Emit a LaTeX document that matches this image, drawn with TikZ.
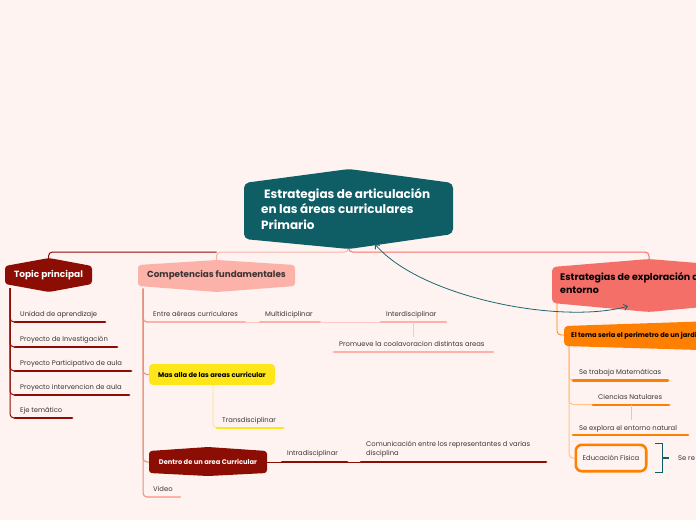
\documentclass[tikz,border=0pt]{standalone}
\usepackage{fontspec}
\setmainfont{Poppins}
\usetikzlibrary{arrows.meta,calc}
\pgfdeclarelayer{back}\pgfdeclarelayer{mid}
\pgfsetlayers{back,mid,main}
\definecolor{bgc}{HTML}{FEF3F1}
\definecolor{rootc}{HTML}{0F5E66}
\definecolor{dred}{HTML}{8B0D03}
\definecolor{lpink}{HTML}{FCB1A9}
\definecolor{salm}{HTML}{F56F69}
\definecolor{orng}{HTML}{FF7F00}
\definecolor{yel}{HTML}{FFE619}
\definecolor{lyel}{HTML}{FFEA90}
\definecolor{lorng}{HTML}{FFC487}
\definecolor{vline}{HTML}{E5907C}
\definecolor{txtc}{HTML}{3A3535}
\definecolor{arrc}{HTML}{1C6871}
\tikzset{
 itm/.style={anchor=base west, inner sep=0, font=\fontsize{6.8}{8}\selectfont, text=txtc},
 uline/.style={line width=2.8, line cap=round},
 conn/.style={line width=1, rounded corners=4},
 smallbold/.style={font=\bfseries\fontsize{6.7}{8}\selectfont, inner sep=0},
}
\begin{document}
\begin{tikzpicture}[x=1pt,y=-1pt]
\useasboundingbox (0,0) rectangle (696,520);
\clip (0,0) rectangle (696,520);
\begin{pgfonlayer}{back}\fill[bgc] (0,0) rectangle (696,520);\end{pgfonlayer}

% ---------- root ----------
\begin{pgfonlayer}{mid}
\fill[rootc, rounded corners=5] (244,183) -- (349,169) -- (453,183) -- (453,234) -- (349,249) -- (244,239) -- cycle;
\end{pgfonlayer}
\node[minimum width=209, minimum height=66, inner sep=0] (root) at (348.5,209) {};
\node[anchor=west, align=left, inner sep=0, text=white, font=\bfseries\fontsize{12}{15.5}\selectfont] (roottxt) at (261,209) {\hspace{3pt}Estrategias de articulación\\en las áreas curriculares\\Primario};

% ---------- main branches ----------
\begin{pgfonlayer}{mid}
\fill[dred, rounded corners=3] (5,266) -- (49,258) -- (92,266) -- (92,284) -- (49,292) -- (5,284) -- cycle;
\fill[lpink, rounded corners=3] (138,265) -- (217,260) -- (295,265) -- (295,286) -- (217,292) -- (138,286) -- cycle;
\fill[salm, rounded corners=4] (552,267) -- (649,259) -- (746,267) -- (746,303) -- (649,312) -- (552,303) -- cycle;
\fill[orng, rounded corners=4] (564,326) -- (700,321.5) -- (836,326) -- (836,346) -- (700,350) -- (564,346) -- cycle;
\fill[yel, rounded corners=4] (149,364) rectangle (275,385);
\fill[dred, rounded corners=3] (149,451) -- (208,447) -- (267,451) -- (267,473) -- (208,476) -- (149,473) -- cycle;
\end{pgfonlayer}
\node[minimum width=87, minimum height=26, inner sep=0, text=white, font=\bfseries\fontsize{9}{11}\selectfont] (tp) at (48.5,275) {Topic principal};
\node[minimum width=157, minimum height=26, inner sep=0, text=txtc, font=\bfseries\fontsize{8.8}{11}\selectfont] (cf) at (216.5,275.5) {Competencias fundamentales};
\node[minimum width=194, minimum height=36, inner sep=0] (ex) at (649,285) {};
\node[anchor=west, align=left, inner sep=0, text=black, font=\bfseries\fontsize{9.5}{12.5}\selectfont] (extxt) at (560,283) {Estrategias de exploración del\\entorno};
\node[minimum width=126, minimum height=21, text=black, smallbold] (ma) at (212,374.5) {Mas alla de las areas curricular};
\node[minimum width=118, minimum height=22, text=white, smallbold] (de) at (208,462) {Dentro de un area Curricular};
\node[anchor=west, text=black, smallbold] (ot) at (571,335.5) {El tema seria el perimetro de un jardín};
\coordinate (otl) at (564,335);

% bus connectors
\begin{pgfonlayer}{back}
\draw[conn, dred] (cf.north |- 0,252) -- (tp.north |- 0,252) -- (tp.north);
\draw[conn, lpink] (root.south) |- (cf.north |- 0,252) -- (cf.north);
\draw[conn, salm] (root.south) |- (ex.north |- 0,252) -- (ex.north);
\end{pgfonlayer}

% ---------- Topic principal children ----------
\coordinate (tpv) at (tp.south -| 10,0);
\node[itm] (t1) at (20,316.5) {Unidad de aprendizaje};
\node[itm] (t2) at (20,341.5) {Proyecto de Investigación};
\node[itm] (t3) at (20,365.5) {Proyecto Participativo de aula};
\node[itm] (t4) at (20,389.5) {Proyecto intervencion de aula};
\node[itm] (t5) at (20,412.5) {Eje temático};
\begin{pgfonlayer}{back}
\foreach \yy/\xe in {322/105, 347/117, 371/131, 395/129, 418/72}{
  \draw[conn, dred] (tpv) |- (15,\yy);
  \draw[uline, dred] (15,\yy) -- (\xe,\yy);
}
\end{pgfonlayer}

% ---------- Competencias children ----------
\coordinate (cfv) at (cf.south -| 143,0);
\node[itm] (c1) at (153,316.5) {Entre aéreas curriculares};
\node[itm] (c2) at (265,316.5) {Multidiciplinar};
\node[itm] (c3) at (386,316.5) {Interdisciplinar};
\node[itm] (c4) at (339,346.5) {Promueve la coolavoracion distintas areas};
\node[itm] (c5) at (222,422.5) {Transdisciplinar};
\node[itm] (c6) at (287,455.5) {Intradisciplinar};
\node[itm] (c7) at (366,446.5) {Comunicación entre los representantes d varias};
\node[itm] (c7b) at (366,455.5) {disciplina};
\node[itm] (c8) at (153,491) {Video};
\begin{pgfonlayer}{back}
\draw[conn, vline] (cfv) |- (148,322);
\draw[conn, vline] (cfv) |- (ma.west);
\draw[conn, vline] (cfv) |- (de.west);
\draw[conn, vline] (cfv) |- (148,497);
\draw[uline, lpink] (148,322) -- (245,322);
\draw[line width=0.8, lpink!70!white] (245,322) -- (260,322);
\draw[uline, lpink] (260,322) -- (320,322);
\draw[line width=0.8, lpink!70!white] (320,322) -- (381,322);
\draw[uline, lpink] (381,322) -- (446,322);
\draw[line width=0.8, lpink!70!white] (413.5,322) -- (413.5,337);
\draw[uline, lpink] (334,352) -- (493,352);
\draw[conn, lyel] (ma.south -| 213,0) |- (217,428);
\draw[uline, yel] (217,428) -- (283,428);
\draw[line width=0.8, dred] (de.east) -- (282,462);
\draw[uline, dred] (282,462) -- (347,462);
\draw[line width=0.8, dred] (347,462) -- (361,462);
\draw[uline, dred] (361,462) -- (546,462);
\draw[uline, lpink] (148,497) -- (180,497);
\end{pgfonlayer}

% ---------- Exploracion children ----------
\begin{pgfonlayer}{back}
\draw[conn, orng, line width=0.8] (ex.south west -| 557,0) |- (otl);
\end{pgfonlayer}
\coordinate (ov) at (569,346);
\node[itm] (o1) at (579,374.5) {Se trabaja Matemáticas};
\node[itm] (o2) at (598,399) {Ciencias Natulares};
\node[itm] (o3) at (579,430) {Se explora el entorno natural};
\node[itm, anchor=center, minimum width=70, minimum height=26] (o4) at (611,458) {Educación Física};
\node[itm, anchor=west] (o5) at (678,458) {Se re};
\begin{pgfonlayer}{back}
\draw[conn, lorng] (ov) |- (573,380.5);
\draw[conn, lorng] (ov) |- (593,404.5);
\draw[conn, lorng] (ov) |- (o4.west);
\draw[uline, orng] (573,380.5) -- (668,380.5);
\draw[uline, orng] (593,405) -- (669,405);
\draw[line width=0.8, lorng] (631,405) -- (631,420);
\draw[uline, orng] (573,435) -- (688,435);
\end{pgfonlayer}
\draw[orng, line width=2.6, rounded corners=6] (o4.south west) rectangle (o4.north east);
\coordinate (brk) at ($(o4.east)+(16,0)$);
\draw[rootc, line width=1.3] ($(o4.north east)+(9,-1)$) -- ++(7,0) |- ($(o4.south east)+(9,1)$);
\draw[rootc, line width=1.3] (brk) -- ++(7,0);

% ---------- curved arrow ----------
\draw[arrc, line width=0.8, {Straight Barb[length=3.5pt,width=6pt]}-{Straight Barb[length=3.5pt,width=6pt]}]
  ($(root.south)+(26.5,2)$) .. controls (420,297) and (560,325) .. ($(ex.south)+(-21,3)$);
\end{tikzpicture}
\end{document}
